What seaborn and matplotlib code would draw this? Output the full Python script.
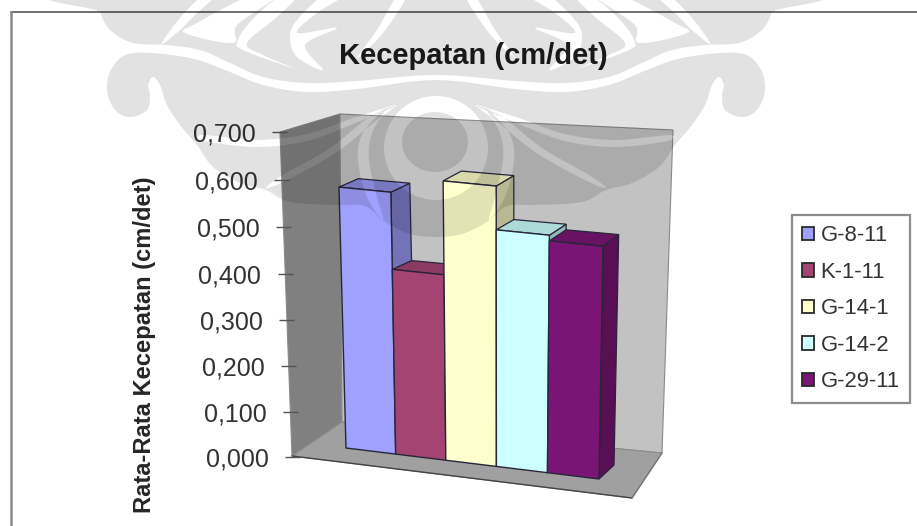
import numpy as np
import pandas as pd
import seaborn as sns
import matplotlib
matplotlib.use("Agg")
import matplotlib.pyplot as plt
from matplotlib.lines import Line2D
from matplotlib.patches import Patch, PathPatch, Polygon
from matplotlib.path import Path
from matplotlib.ticker import FixedLocator, FuncFormatter
from matplotlib.transforms import Affine2D, ScaledTranslation, Transform

# Data
categories = ["G-8-11", "K-1-11", "G-14-1", "G-14-2", "G-29-11"]
speeds = [0.585, 0.418, 0.62, 0.527, 0.515]
tick_values = [0.0, 0.1, 0.2, 0.3, 0.4, 0.5, 0.6, 0.7]
title_text = "Kecepatan (cm/det)"
ylabel_text = "Rata-Rata Kecepatan (cm/det)"

# Styling
bar_colors = ["#a0a0ff", "#a44472", "#ffffcc", "#ccffff", "#7a1575"]
WIDTH, HEIGHT = 917, 526
VMAX = 0.7

sns.set_theme(style="white")
plt.rcParams["font.family"] = ["Liberation Sans", "DejaVu Sans"]

fig = plt.figure(figsize=(WIDTH / 100, HEIGHT / 100), dpi=100, facecolor="white")
ax = fig.add_axes([0, 0, 1, 1])
pixels = Affine2D().scale(1, -1).translate(0, HEIGHT)


def homography(src, dst):
    rows, rhs = [], []
    for (x, y), (u, v) in zip(src, dst):
        rows.append([x, y, 1, 0, 0, 0, -u * x, -u * y])
        rows.append([0, 0, 0, x, y, 1, -v * x, -v * y])
        rhs += [u, v]
    return np.append(np.linalg.solve(np.array(rows, float), np.array(rhs, float)), 1).reshape(3, 3)


class PlaneTransform(Transform):
    """Projects (category position, value) on to a slanted plane of the 3D box."""
    input_dims = output_dims = 2
    has_inverse = False
    is_affine = False

    def __init__(self, corners):
        super().__init__()
        src = [(-0.5, 0), (4.5, 0), (-0.5, VMAX), (4.5, VMAX)]
        self.matrix = homography(src, corners)

    def pixel(self, values):
        pts = np.column_stack([np.asarray(values, float), np.ones(len(values))])
        out = pts @ self.matrix.T
        return out[:, :2] / out[:, 2:]

    def transform_non_affine(self, values):
        return pixels.transform(self.pixel(values))


# Front plane of the bars and the plane of their rear faces
front_corners = [(346, 448), (599, 479), (337.5, 133), (604.5, 158)]
back_corners = [(367, 439), (614, 465), (356.5, 124), (620.5, 146)]
front = PlaneTransform(front_corners)
back = PlaneTransform(back_corners)

# Bars
frame = pd.DataFrame({"sample": categories, "speed": speeds})
sns.barplot(data=frame, x="sample", y="speed", hue="sample", palette=bar_colors,
            width=1.0, saturation=1, edgecolor="#26263a", linewidth=1.0, legend=False, ax=ax)
ax.set_xlim(-0.5, 4.5)
ax.set_ylim(0, VMAX)
bars = list(ax.patches)

# Walls and floor of the 3D box
walls = [
    ([(280, 132), (340, 114), (342, 422), (292, 456)], "#808080"),
    ([(340, 114), (673, 130), (662, 453), (342, 422)], "#c2c2c2"),
    ([(292, 456), (342, 422), (662, 453), (632, 498)], "#a0a0a0"),
]
for corners, color in walls:
    ax.add_patch(Polygon(corners, closed=True, facecolor=color, edgecolor="#8a8a8a",
                         linewidth=0.8, transform=pixels, zorder=1, clip_on=False))
ax.add_line(Line2D([292, 632], [456, 498], color="#444444", lw=1.0, transform=pixels, zorder=1.5))
ax.add_line(Line2D([632, 662], [498, 453], color="#777777", lw=1.0, transform=pixels, zorder=1.5))


def shade(color, factor):
    rgb = np.array(matplotlib.colors.to_rgb(color)) * factor
    return tuple(rgb)


for i, (patch, value, color) in enumerate(zip(bars, speeds, bar_colors)):
    x0, x1 = i - 0.5, i + 0.5
    base_z = 10 + i
    patch.set_transform(front)
    patch.set_clip_on(False)
    patch.set_zorder(base_z + 0.5)
    f = front.pixel([(x0, value), (x1, value), (x1, 0)])
    b = back.pixel([(x0, value), (x1, value), (x1, 0)])
    top_face = [f[0], f[1], b[1], b[0]]
    side_face = [f[1], f[2], b[2], b[1]]
    for face, factor in ((side_face, 0.72), (top_face, 0.85)):
        ax.add_patch(Polygon(face, closed=True, facecolor=shade(color, factor), edgecolor="#26263a",
                             linewidth=0.9, transform=pixels, zorder=base_z, clip_on=False))

ax.axis("off")
ax.set_title(title_text, x=473 / WIDTH, y=1 - 72 / HEIGHT, fontsize=21, fontweight="bold",
             color="#1c1c1c", zorder=60)

# Legend
handles = [Patch(facecolor=c, edgecolor="#2a2a2a", linewidth=1.3) for c in bar_colors]
legend = ax.legend(handles, categories, loc="upper left", bbox_to_anchor=(792, HEIGHT - 215),
                   bbox_transform=Affine2D(), fontsize=15.8, handlelength=0.55, handleheight=0.55,
                   handletextpad=0.3, labelspacing=0.71, borderpad=0.46, borderaxespad=0,
                   frameon=True, fancybox=False, edgecolor="#8c8c8c", facecolor="white",
                   labelcolor="#333333", framealpha=1)
legend.get_frame().set_linewidth(1.6)
legend.set_zorder(40)

# Value axis along the slanted front edge of the side wall
bend = -0.032
axis_top, axis_bottom, axis_right = 132, 457, 300
axis_ax = fig.add_axes([axis_right / WIDTH, 1 - axis_bottom / HEIGHT, 0.001,
                        (axis_bottom - axis_top) / HEIGHT], facecolor="none", zorder=5)


def to_axis(v):
    t = np.asarray(v, float) / VMAX
    return t * (1 + bend) / (1 + bend * t)


def from_axis(f):
    f = np.asarray(f, float)
    return VMAX * f / (1 + bend - bend * f)


axis_ax.set_yscale("function", functions=(to_axis, from_axis))
axis_ax.set_ylim(0, VMAX)
axis_ax.yaxis.set_major_locator(FixedLocator(tick_values))
axis_ax.yaxis.set_major_formatter(FuncFormatter(lambda v, _: f"{v:.3f}".replace(".", ",")))
axis_ax.yaxis.set_minor_locator(FixedLocator([]))
axis_ax.set_xticks([])
for spine in axis_ax.spines.values():
    spine.set_visible(False)
axis_ax.tick_params(axis="y", length=10.5, width=1.0, color="#555555", pad=12,
                    labelsize=18, labelcolor="#333333", left=True)
fig.canvas.draw()
for tick in axis_ax.yaxis.get_major_ticks():
    lean = -13 * tick.get_loc() / VMAX / 100
    shift = ScaledTranslation(lean, 0, fig.dpi_scale_trans)
    tick.label1.set_transform(tick.label1.get_transform() + shift)
    tick.tick1line.set_transform(tick.tick1line.get_transform() + shift)
axis_ax.set_ylabel(ylabel_text, fontsize=17.1, fontweight="bold", color="#262626", va="center")
axis_ax.yaxis.set_label_coords(145, HEIGHT - 345, transform=Affine2D())

# Outer chart frame
fig.add_artist(Line2D([11, WIDTH], [12, 12], color="#555555", lw=1.2, transform=pixels, zorder=45))
fig.add_artist(Line2D([11, 11], [12, HEIGHT], color="#8a8a8a", lw=1.8, transform=pixels, zorder=45))


# Ornamental background stamp, laid over the chart
def smooth(points, n=10):
    p = np.array(points, float)
    out = []
    for i in range(len(p)):
        p0, p1, p2, p3 = p[i - 1], p[i], p[(i + 1) % len(p)], p[(i + 2) % len(p)]
        for t in np.linspace(0, 1, n, endpoint=False):
            out.append(0.5 * (2 * p1 + (p2 - p0) * t + (2 * p0 - 5 * p1 + 4 * p2 - p3) * t ** 2
                              + (3 * p1 - p0 - 3 * p2 + p3) * t ** 3))
    return np.array(out)


def mirrored(points):
    return [(872 - x, y) for x, y in points]


def ring(points, positive=True):
    loop = smooth(points)
    x, y = loop[:, 0], loop[:, 1]
    area = 0.5 * np.sum(x * np.roll(y, -1) - np.roll(x, -1) * y)
    return loop if (area > 0) == positive else loop[::-1]


def ellipse(cx, cy, rx, ry):
    a = np.linspace(0, 2 * np.pi, 16, endpoint=False)
    return list(zip(cx + rx * np.cos(a), cy + ry * np.sin(a)))


upper_half = [(96, -6), (100, 12), (110, 30), (133, 43), (165, 45), (200, 50), (230, 63),
              (263, 77), (307, 83), (357, 81), (436, 75)]
lower_half = [(436, 80), (357, 89), (307, 92), (263, 85), (230, 72), (190, 58), (133, 53), (112, 68),
              (107, 90), (115, 110), (130, 117), (147, 110), (150, 95), (148, 85), (153, 77), (160, 85),
              (167, 105), (180, 125), (197, 145), (213, 167), (240, 183), (266, 190), (290, 202),
              (337, 205), (365, 206), (385, 222), (410, 234), (436, 237)]

upper_slits = [
    [(162, 44), (172, 28), (187, 10), (203, -4), (215, -4), (195, 15), (180, 30)],
    [(185, 33), (233, 43), (237, 25), (277, -4), (250, -4), (197, 23)],
    [(243, 50), (293, 68), (263, 55), (247, 43), (277, 17), (297, -4), (280, -4), (252, 20), (238, 40)],
    [(337, 28), (297, 33), (317, 13), (343, -4), (323, -4), (297, 20), (290, 37), (297, 57), (323, 70), (305, 45)],
    [(383, 33), (407, -4), (397, -4), (377, 30), (357, 58)],
]
lower_slits = [
    [(397, 105), (353, 118), (307, 134), (257, 140), (203, 135), (205, 141), (257, 147), (307, 141), (353, 124)],
    [(395, 106), (368, 118), (330, 148), (283, 175), (266, 188), (285, 181), (334, 154), (372, 124)],
    [(387, 107), (363, 133), (358, 160), (367, 197), (383, 220), (377, 197), (369, 160), (372, 133)],
]

vertices, codes = [], []


def add_loop(loop):
    vertices.extend(loop.tolist())
    vertices.append(loop[0].tolist())
    codes.extend([Path.MOVETO] + [Path.LINETO] * (len(loop) - 1) + [Path.CLOSEPOLY])


add_loop(ring(upper_half + mirrored(upper_half)[-2::-1]))
add_loop(ring(lower_half + mirrored(lower_half)[-2:0:-1]))
for slit in upper_slits + lower_slits:
    add_loop(ring(slit, positive=False))
    add_loop(ring(mirrored(slit), positive=False))
add_loop(ring(ellipse(436, 148, 52, 52), positive=False))
add_loop(ring(ellipse(435, 142, 33, 30)))

fig.add_artist(PathPatch(Path(vertices, codes), facecolor="black", alpha=0.115, linewidth=0,
                         transform=pixels, zorder=50))

fig.savefig("out.png", dpi=100, facecolor="white")
